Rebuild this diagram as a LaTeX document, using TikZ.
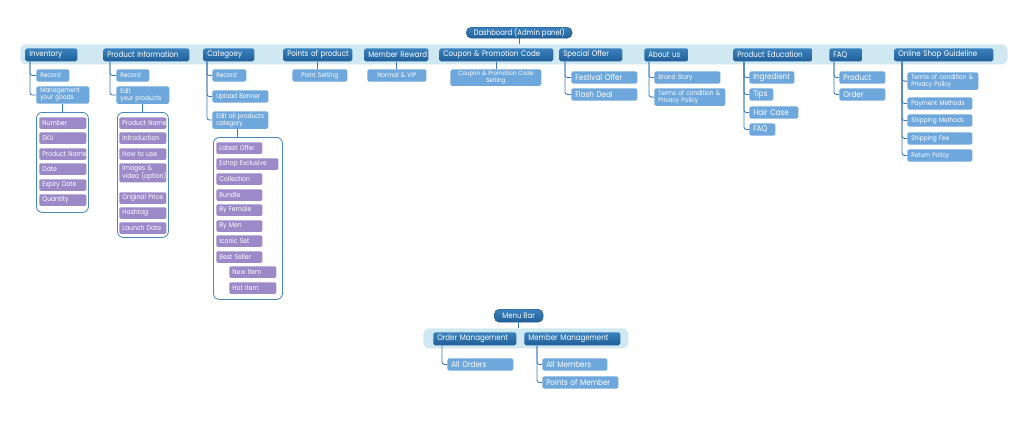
\documentclass[tikz,border=0pt]{standalone}
\usepackage{fontspec}
\setmainfont{Poppins}[FakeStretch=0.88]
\usetikzlibrary{positioning}
\hyphenpenalty=10000
\exhyphenpenalty=10000

\definecolor{bandblue}{HTML}{D0E8F1}
\definecolor{headblue}{HTML}{2C6DA6}
\definecolor{headtop}{HTML}{3A82BE}
\definecolor{headbot}{HTML}{215F98}
\definecolor{subblue}{HTML}{6EA7DB}
\definecolor{itempurple}{HTML}{9B89C8}
\definecolor{frameblue}{HTML}{4A88C0}
\definecolor{lineblue}{HTML}{3B78B4}

% two lines of text in one box
\newcommand{\twolines}[2]{\begin{tabular}{@{}l@{}}#1\\#2\end{tabular}}

\tikzset{
  band/.style={fill=bandblue, rounded corners=0.15cm, anchor=north west, inner sep=0pt},
  root/.style={top color=headtop, bottom color=headbot, draw=headblue!75!black, line width=0.3pt, text=white,
    rounded corners=0.13cm, font=\fontsize{5.6}{6}\selectfont, inner sep=0pt, anchor=north west},
  head/.style={top color=headtop, bottom color=headbot, rounded corners=1.2pt, text=white, font=\fontsize{5.7}{6}\selectfont,
    inner xsep=0.1cm, inner ysep=0pt, minimum height=0.325cm, anchor=north west, align=left},
  sub/.style={fill=subblue, rounded corners=1.2pt, text=white, font=\fontsize{4.7}{5}\selectfont,
    inner xsep=0.1cm, inner ysep=1.2pt, minimum height=0.31cm, anchor=north west, align=left},
  subL/.style={sub, font=\fontsize{5.8}{6}\selectfont},
  item/.style={fill=itempurple, rounded corners=1pt, text=white, font=\fontsize{4.9}{5.4}\selectfont,
    inner xsep=0.08cm, inner ysep=1pt, minimum height=0.29cm, anchor=north west, align=left},
  group/.style={draw=frameblue, fill=white, line width=0.6pt, rounded corners=0.15cm, anchor=north west, inner sep=0pt},
  tree/.style={draw=lineblue, line width=0.6pt, rounded corners=0.06cm},
  bw/.style={text width=#1*0.025cm-0.2cm},
  iw/.style={text width=#1*0.025cm-0.16cm},
}

\begin{document}
\begin{tikzpicture}[x=0.025cm, y=-0.025cm]

    % Page size
    \useasboundingbox[fill=white] (0,0) rectangle (1024,424);

    % Top of the dashboard
    \node[root, minimum width=2.65cm, minimum height=0.275cm] (dash) at (466,27) {Dashboard (Admin panel)};
    \node[band, minimum width=24.675cm, minimum height=0.5cm] (band) at (20,44) {};
    \draw[tree] (dash.south) -- (dash.south |- band.north);

    % Menu bar
    \node[root, minimum width=1.225cm, minimum height=0.325cm] (mbar) at (494,309) {Menu Bar};
    \node[band, minimum width=5.125cm, minimum height=0.5cm] (band2) at (423,328) {};
    \draw[tree] (mbar.south) -- (mbar.south |- band2.north);

    % Headers on the bands
    \foreach \n/\x/\y/\w/\lbl in {
            inv/25/48/52/Inventory,
            pinf/103/48/86/Product Information,
            cat/203/48/51/Categoey,
            pts/283/48/69/Points of product,
            mem/364/48/64/Member Reward,
            cou/439/48/114/Coupon \& Promotion Code,
            spe/559/48/63/Special Offer,
            abt/644/48/44/About us,
            edu/733/48/79/Product Education,
            faq/829/48/33/FAQ,
            osg/894/48/99/Online Shop Guideline,
            ord/433/332/83/Order Management,
            memm/524/332/96/Member Management%
        } {
        \node[head, bw=\w] (\n) at (\x,\y) {\mbox{\lbl}};
    }

    % Second level
    \foreach \n/\s/\x/\y/\w/\lbl in {
            inv1/sub/36/69/33/Record,
            inv2/sub/36/86/53/{\twolines{Management}{your goods}},
            pinf1/sub/116/69/33/Record,
            pinf2/sub/116/86/53/{\twolines{Edit}{your products}},
            cat1/sub/212/69/34/Record,
            cat2/sub/212/90/56/Upload Banner,
            cat3/sub/212/111/56/{\twolines{Edit all products}{category}},
            spe1/subL/571/71/66/Festival Offer,
            spe2/subL/571/88/66/Flash Deal,
            abt1/sub/654/71/66/Brand Story,
            abt2/sub/654/88/71/{\twolines{Terms of condition \&}{Privacy Policy}},
            edu1/subL/749/71/45/Ingredient,
            edu2/subL/749/88/24/Tips,
            edu3/subL/749/106/49/Hair Case,
            edu4/subL/749/123/26/FAQ,
            faq1/subL/839/71/46/Product,
            faq2/subL/839/88/46/Order,
            osg1/sub/907/72/71/{\twolines{Terms of condition \&}{Privacy Policy}},
            osg2/sub/907/97/65/Payment Methods,
            osg3/sub/907/114/65/Shipping Methods,
            osg4/sub/907/132/65/Shipping Fee,
            osg5/sub/907/149/65/Return Policy,
            ord1/subL/447/358/66/All Orders,
            memm1/subL/542/358/65/All Members,
            memm2/subL/542/376/76/Points of Member%
        } {
        \node[\s, bw=\w] (\n) at (\x,\y) {\mbox{\lbl}};
    }

    % Single children hang straight down
    \node[sub, bw=55, align=center] (pts1) at (292,69) {Point Setting};
    \node[sub, bw=59, align=center] (mem1) at (367,69) {Normal \& VIP};
    \node[sub, bw=91, align=center, font=\fontsize{4.4}{4.8}\selectfont] (cou1) at (450,69) {Coupon \& Promotion Code\\Setting};
    \foreach \p in {pts, mem, cou}
        \draw[tree] (\p.south) -- (\p.south |- \p1.north);

    % Tree lines
    \foreach \p/\d/\kids in {
            inv/5/{inv1,inv2},
            pinf/7/{pinf1,pinf2},
            cat/4/{cat1,cat2,cat3},
            spe/6/{spe1,spe2},
            abt/5/{abt1,abt2},
            edu/11/{edu1,edu2,edu3,edu4},
            faq/5/{faq1,faq2},
            osg/8/{osg1,osg2,osg3,osg4,osg5},
            ord/9/{ord1},
            memm/13/{memm1,memm2}%
        } {
        \foreach \k in \kids
            \draw[tree] ([xshift=\d*0.025cm]\p.south west) |- (\k.west);
    }

    % Frames round the lists
    \node[group, minimum width=1.3cm, minimum height=2.5cm] (invg) at (36,112) {};
    \node[group, minimum width=1.275cm, minimum height=3.125cm] (pinfg) at (117,112) {};
    \node[group, minimum width=1.725cm, minimum height=4.05cm] (catg) at (213,137) {};
    \draw[tree] (inv2.south) -- (inv2.south |- invg.north);
    \draw[tree] (pinf2.south) -- (pinf2.south |- pinfg.north);
    \draw[tree] ([xshift=-0.075cm]cat3.south) -- ([xshift=-0.075cm]cat3.south |- catg.north);

    % List items
    \foreach \n/\x/\y/\w/\lbl in {
            invA/39/117/47/Number,
            invB/39/132/47/SKU,
            invC/39/148/47/Product Name,
            invD/39/163/47/Date,
            invE/39/179/47/Expiry Date,
            invF/39/194/47/Quantity,
            pinfA/119/117/47/Product Name,
            pinfB/119/132/47/Introduction,
            pinfC/119/148/47/How to use,
            pinfD/119/163/47/{\twolines{Images \&}{video (option)}},
            pinfE/119/192/47/Original Price,
            pinfF/119/207/47/Hashtag,
            pinfG/119/222/47/Launch Date,
            catA/216/142/46/Latest Offer,
            catB/216/158/62/Eshop Exclusive,
            catC/216/173/46/Collection,
            catD/216/189/46/Bundle,
            catE/216/204/46/By Female,
            catF/216/220/46/By Men,
            catG/216/235/46/Iconic Set,
            catH/216/251/46/Best Seller,
            catI/229/266/47/New Item,
            catJ/229/282/47/Hot Item%
        } {
        \node[item, iw=\w] (\n) at (\x,\y) {\mbox{\lbl}};
    }

\end{tikzpicture}
\end{document}
